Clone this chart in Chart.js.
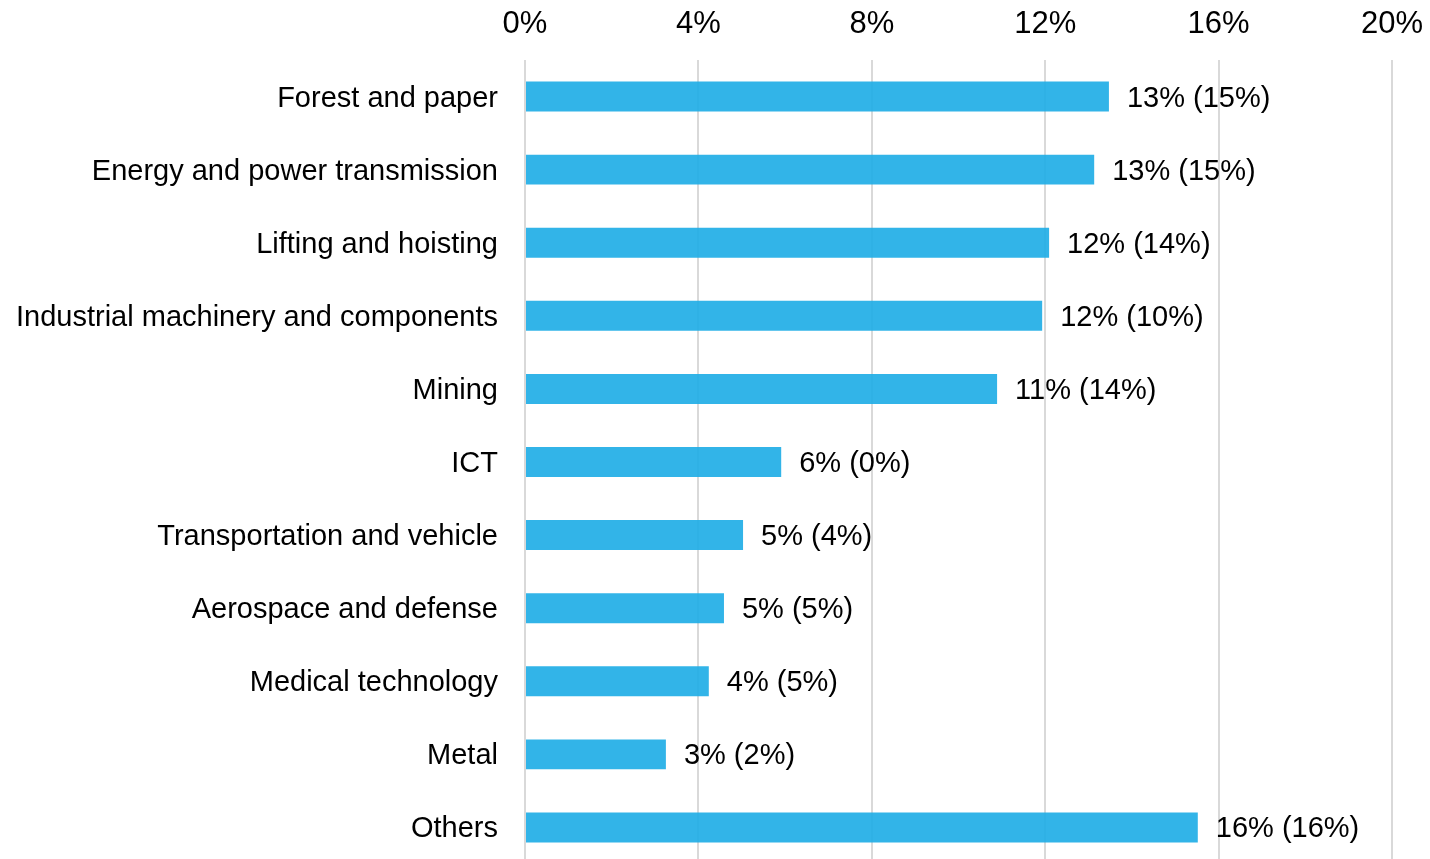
<!DOCTYPE html>
<html>
<head>
<meta charset="utf-8">
<script src="https://cdn.jsdelivr.net/npm/chart.js@4"></script>
<style>
  html, body { margin:0; padding:0; background:#fff; overflow:hidden; }
</style>
</head>
<body>
<canvas id="c" width="1430" height="866"></canvas>
<script>
const categories = ['Forest and paper','Energy and power transmission','Lifting and hoisting',
  'Industrial machinery and components','Mining','ICT','Transportation and vehicle',
  'Aerospace and defense','Medical technology','Metal','Others'];
const shares = [13.47, 13.13, 12.09, 11.93, 10.89, 5.91, 5.03, 4.59, 4.24, 3.25, 15.52];
const shownNow = [13, 13, 12, 12, 11, 6, 5, 5, 4, 3, 16];
const shownPrev = [15, 15, 14, 10, 14, 0, 4, 5, 5, 2, 16];
const xTicks = [0, 4, 8, 12, 16, 20];

const FONT = '"Liberation Sans", Arial, sans-serif';

// draws "13% (15%)" to the right of each bar
const barLabels = {
  id:'barLabels',
  afterDatasetsDraw(chart){
    const ctx = chart.ctx;
    const meta = chart.getDatasetMeta(0);
    ctx.save();
    ctx.font = '29px ' + FONT;
    ctx.fillStyle = '#000';
    ctx.textAlign = 'left';
    ctx.textBaseline = 'middle';
    meta.data.forEach((bar, i)=>{
      ctx.fillText(shownNow[i] + '% (' + shownPrev[i] + '%)', bar.x + 18, bar.y + 2);
    });
    ctx.restore();
  }
};

new Chart(document.getElementById('c'), {
  type:'bar',
  data:{ labels:categories,
    datasets:[{ data:shares, backgroundColor:'rgba(33,174,230,0.92)',
      barPercentage:0.41, categoryPercentage:1 }]},
  options:{
    indexAxis:'y',
    responsive:false,
    animation:false,
    devicePixelRatio:1,
    layout:{ padding:{ top:0, right:38, bottom:2, left:0 } },
    plugins:{ legend:{display:false}, tooltip:{enabled:false} },
    scales:{
      x:{
        position:'top', min:0, max:20,
        afterBuildTicks(s){ s.ticks = xTicks.map(v=>({value:v})); },
        afterFit(s){ s.height = 60; s.paddingLeft = 0; s.paddingRight = 0; },
        grid:{ color:'#d9d9d9', lineWidth:2, drawTicks:false },
        border:{ display:false },
        ticks:{ font:{ family:FONT, size:31 }, color:'#000', padding:17,
          callback:v=>v + '%' }
      },
      y:{
        afterFit(s){ s.width = 525; s.paddingTop = 0; s.paddingBottom = 0; },
        grid:{ display:false, drawTicks:false },
        border:{ display:false },
        ticks:{ font:{ family:FONT, size:29 }, color:'#000', padding:27, labelOffset:2 }
      }
    }
  },
  plugins:[barLabels]
});
</script>
</body>
</html>
